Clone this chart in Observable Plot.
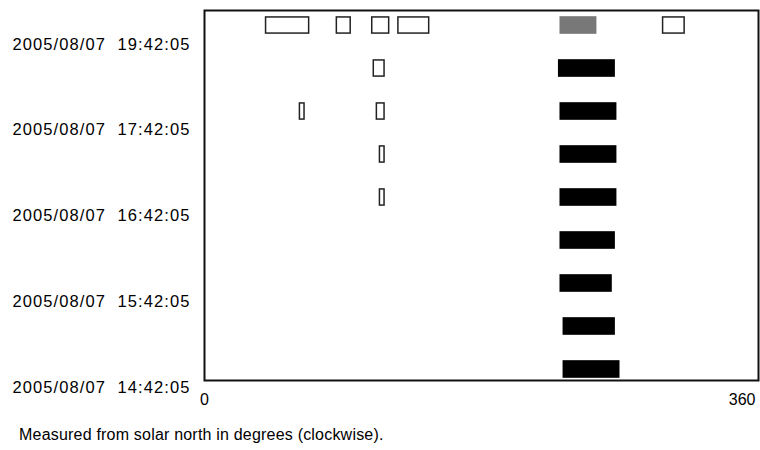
<!DOCTYPE html>
<html>
<head>
<meta charset="utf-8">
<script src="https://cdn.jsdelivr.net/npm/d3@7"></script>
<script src="https://cdn.jsdelivr.net/npm/@observablehq/plot@0.6"></script>
<style>
  html, body { margin: 0; padding: 0; background: #fff; }
  #chart svg { display: block; white-space: pre; }
  #caption { font-family: "Liberation Sans", Arial, Helvetica, sans-serif; font-size: 16px; line-height: 1; letter-spacing: 0.2px; margin: 7px 0 0 19px; color: #000; }
</style>
</head>
<body>
<div id="chart"></div>
<div id="caption">Measured from solar north in degrees (clockwise).</div>
<script>
// Observation rows (0 = earliest, bottom; 8 = latest, top)
const rowOf    = [8, 8, 8, 8, 8, 8,   7, 7,   6, 6, 6,   5, 5,   4, 4,   3,   2,   1,   0];
// Angular extent, degrees from solar north (clockwise)
const startDeg = [40, 86, 109, 126, 231, 298,   110, 230,   62, 112, 231,   114, 231,   114, 231,   231, 231, 233, 233];
const endDeg   = [68, 95, 120, 146, 255, 312,   117, 267,   65, 117, 268,   117, 268,   117, 268,   267, 265, 267, 270];
// Type of detection: "open" (outlined), "filled" (black), "partial" (gray)
const kind     = ["open", "open", "open", "open", "partial", "open",
                  "open", "filled",
                  "open", "open", "filled",
                  "open", "filled",
                  "open", "filled",
                  "filled", "filled", "filled", "filled"];

// Time tick labels and their row positions on the y axis
const timeLabels = ["2005/08/07  14:42:05", "2005/08/07  15:42:05", "2005/08/07  16:42:05",
                    "2005/08/07  17:42:05", "2005/08/07  19:42:05"];
const labelRow   = [-0.43, 1.57, 3.57, 5.57, 7.56];
const xTickValues = [0, 360];

const cmes = rowOf.map((r, i) => ({row: r, start: startDeg[i], end: endDeg[i], kind: kind[i]}));
const labels = timeLabels.map((t, i) => ({text: t, row: labelRow[i]}));
const half = 0.205;

const font = '"Liberation Sans", Arial, Helvetica, sans-serif';

const chart = Plot.plot({
  width: 760,
  height: 420,
  marginLeft: 204,
  marginRight: 2,
  marginTop: 10,
  marginBottom: 40,
  style: {fontFamily: font, fontSize: "16px", color: "#000", background: "#fff"},
  x: {domain: [0, 360], axis: null},
  y: {domain: [-0.256, 8.349], axis: null},
  marks: [
    Plot.rect(cmes.filter(d => d.kind === "filled"), {
      x1: "start", x2: "end", y1: d => d.row - half, y2: d => d.row + half, fill: "#000"
    }),
    Plot.rect(cmes.filter(d => d.kind === "partial"), {
      x1: "start", x2: "end", y1: d => d.row - half, y2: d => d.row + half, fill: "#787878"
    }),
    Plot.rect(cmes.filter(d => d.kind === "open"), {
      x1: "start", x2: "end", y1: d => d.row - half, y2: d => d.row + half,
      fill: "#fff", stroke: "#222", strokeWidth: 1.5, insetTop: 0.75, insetBottom: 0.75
    }),
    Plot.frame({stroke: "#111", strokeWidth: 2}),
    Plot.text(labels, {
      y: "row", text: "text", frameAnchor: "left", dx: -14, textAnchor: "end",
      fontSize: 16.5, fill: "#000", ariaLabel: "time-labels"
    }),
    Plot.text(xTickValues.filter(v => v === 0), {
      x: d => d, text: d => String(d), frameAnchor: "bottom", dy: 24, fontSize: 16, fill: "#000"
    }),
    Plot.text(xTickValues.filter(v => v === 360), {
      x: d => d, text: d => String(d), frameAnchor: "bottom", dy: 24, dx: -3,
      textAnchor: "end", fontSize: 16, fill: "#000"
    })
  ]
});
document.getElementById("chart").appendChild(chart);
// widen the time labels to match the reference's wide glyph spacing
d3.select(chart).selectAll("text")
  .filter(function () { return this.textContent.startsWith("2005"); })
  .style("letter-spacing", "1.1px");
</script>
</body>
</html>
